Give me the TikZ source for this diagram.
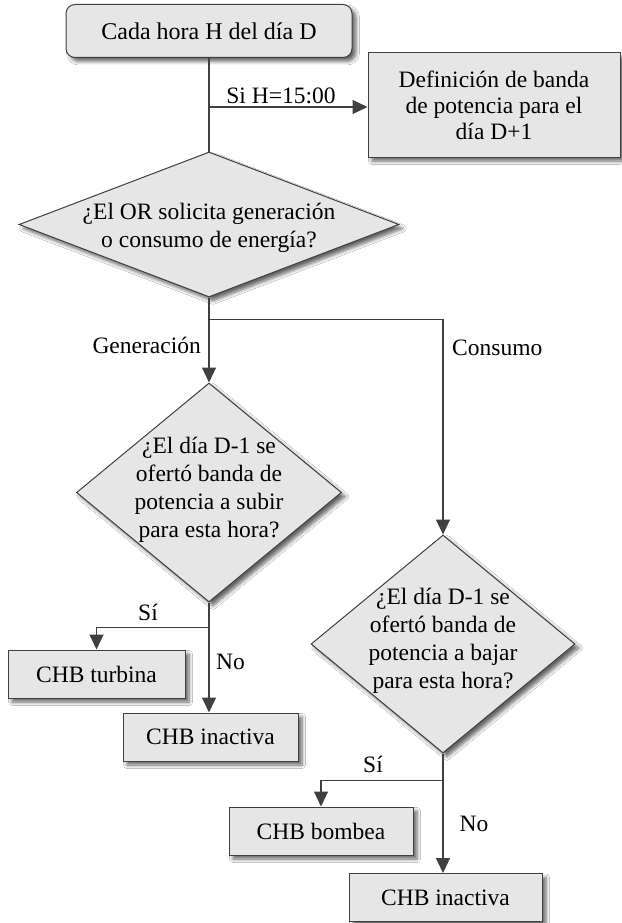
\documentclass[tikz,border=0pt]{standalone}
\usepackage{fontspec}
\setmainfont{Liberation Serif}
\newfontfamily\tnr{Liberation Serif}
\usetikzlibrary{shapes.geometric,arrows.meta,shadows.blur,calc}
\definecolor{boxfill}{HTML}{E6E6E6}
\definecolor{edgecol}{HTML}{404040}
\tikzset{
  base/.style={draw=edgecol, line width=1pt, fill=boxfill, inner sep=0pt,
    blur shadow={shadow xshift=4pt, shadow yshift=-4pt, shadow blur steps=6,
      shadow blur radius=3.5pt, shadow opacity=60}},
  procbox/.style={base, rectangle, font=\tnr\fontsize{23.5}{26}\selectfont, align=center},
  startbox/.style={procbox, rounded corners=9pt, font=\tnr\fontsize{24}{26}\selectfont},
  decision/.style={base, diamond},
  dtext/.style={font=\tnr\fontsize{23.5}{28}\selectfont, align=center, inner sep=0pt},
  lbl/.style={font=\tnr\fontsize{23.5}{27}\selectfont, inner sep=0pt},
  conn/.style={draw=edgecol, line width=1.1pt},
  arr/.style={conn, -{Triangle[length=15pt,width=14pt]}}
}
\begin{document}
\begin{tikzpicture}[x=1pt,y=-1pt]
\useasboundingbox (0,0) rectangle (621,923);
\fill[white] (0,0) rectangle (621,923);

% nodes
\node[startbox, minimum width=286pt, minimum height=53pt] (b1) at (209,31) {Cada hora H del día D};
\node[procbox, minimum width=252pt, minimum height=104pt] (b2) at (494,105)
  {Definición de banda\\de potencia para el\\día D+1};

\node[decision, minimum width=380pt, minimum height=145pt] (d1) at (209,224.5) {};
\node[dtext] (d1t) at ([yshift=-3pt]d1.center) {¿El OR solicita generación\\o consumo de energía?};

\node[decision, minimum width=265pt, minimum height=219pt] (d2) at (209,492.5) {};
\node[dtext] (d2t) at ([yshift=3pt]d2.center) {¿El día D-1 se\\ofertó banda de\\potencia a subir\\para esta hora?};

\node[decision, minimum width=264pt, minimum height=218pt] (d3) at (443,644) {};
\node[dtext] (d3t) at ([yshift=3pt]d3.center) {¿El día D-1 se\\ofertó banda de\\potencia a bajar\\para esta hora?};

\node[procbox, minimum width=177pt, minimum height=48pt] (t1) at (96.5,674) {CHB turbina};
\node[procbox, minimum width=175pt, minimum height=48pt] (i1) at (210.5,737) {CHB inactiva};
\node[procbox, minimum width=184pt, minimum height=48pt] (bo) at (321,831) {CHB bombea};
\node[procbox, minimum width=193pt, minimum height=48pt] (i2) at (445.5,897.5) {CHB inactiva};

% connectors
\draw[conn] (b1.south) -- (d1.north);
\draw[arr] (b1.south |- 0,107) coordinate (hsplit) -- (hsplit -| b2.west);
\node[lbl, anchor=south] (lsi) at (281,104) {Si H=15:00};

\draw[conn] (d1.south) -- ++(0,22) coordinate (s1);
\draw[arr] (s1) -- (d2.north);
\draw[arr] (s1) -| (d3.north);
\node[lbl, anchor=east] (lgen) at (201,345) {Generación};
\node[lbl, anchor=west] (lcon) at (452,348) {Consumo};

\draw[conn] (d2.south) -- ++(0,25) coordinate (s2);
\draw[arr] (s2) -| (t1.north);
\draw[arr] (s2) -- (s2 |- i1.north);
\node[lbl] (lsi2) at (148,612) {Sí};
\node[lbl, anchor=west] (lno2) at (216,662) {No};

\draw[conn] (d3.south) -- ++(0,27) coordinate (s3);
\draw[arr] (s3) -| (bo.north);
\draw[arr] (s3) -- (s3 |- i2.north);
\node[lbl] (lsi3) at (373,764) {Sí};
\node[lbl] (lno3) at (474,824) {No};
\end{tikzpicture}
\end{document}
